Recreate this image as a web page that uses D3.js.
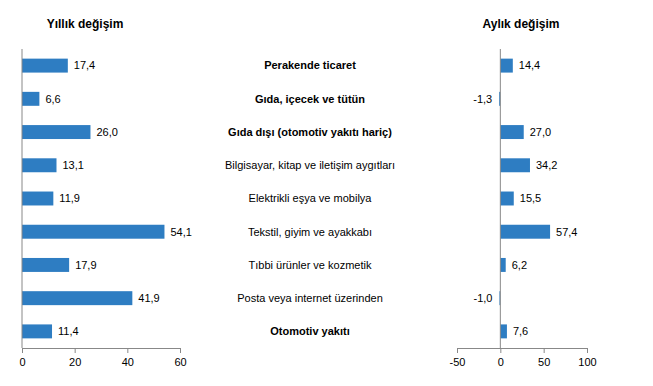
<!DOCTYPE html>
<html>
<head>
<meta charset="utf-8">
<script src="https://cdn.jsdelivr.net/npm/d3@7"></script>
<style>
  body { margin: 0; background: #fff; }
  svg { font-family: "Liberation Sans", Arial, sans-serif; }
</style>
</head>
<body>
<svg width="653" height="386"></svg>
<script>
// data
var categories = [
  "Perakende ticaret",
  "Gıda, içecek ve tütün",
  "Gıda dışı (otomotiv yakıtı hariç)",
  "Bilgisayar, kitap ve iletişim aygıtları",
  "Elektrikli eşya ve mobilya",
  "Tekstil, giyim ve ayakkabı",
  "Tıbbi ürünler ve kozmetik",
  "Posta veya internet üzerinden",
  "Otomotiv yakıtı"
];
var boldCats = ["Perakende ticaret", "Gıda, içecek ve tütün", "Gıda dışı (otomotiv yakıtı hariç)", "Otomotiv yakıtı"];
var yearly = [17.4, 6.6, 26.0, 13.1, 11.9, 54.1, 17.9, 41.9, 11.4];
var monthly = [14.4, -1.3, 27.0, 34.2, 15.5, 57.4, 6.2, -1.0, 7.6];
var yearlyTicks = [0, 20, 40, 60];
var monthlyTicks = [-50, 0, 50, 100];

var svg = d3.select("svg");
var barColor = "#2e7dc2";
var axisColor = "#888";
var fmt = function(v){ return v.toFixed(1).replace(".", ","); };

var y = d3.scaleBand().domain(categories).range([49, 348]).paddingInner(0.58).paddingOuter(0.29);

var xL = d3.scaleLinear().domain([0, 60]).range([22, 180]);
var xR = d3.scaleLinear().domain([-50, 100]).range([457, 587]);

function drawPanel(x, vals, ticks, title, titleX) {
  var g = svg.append("g");
  g.selectAll("rect").data(vals).enter().append("rect")
    .attr("x", function(d){ return x(Math.min(0, d)); })
    .attr("y", function(d, i){ return y(categories[i]); })
    .attr("width", function(d){ return Math.abs(x(d) - x(0)); })
    .attr("height", y.bandwidth())
    .attr("fill", barColor);

  g.selectAll("text.val").data(vals).enter().append("text")
    .attr("class", "val")
    .attr("x", function(d){ return d >= 0 ? x(d) + 6 : x(d) - 7; })
    .attr("y", function(d, i){ return y(categories[i]) + y.bandwidth() / 2; })
    .attr("dy", "0.35em")
    .attr("text-anchor", function(d){ return d >= 0 ? "start" : "end"; })
    .attr("font-size", 11)
    .attr("fill", "#000")
    .text(fmt);

  // vertical axis line at zero
  g.append("line")
    .attr("x1", x(0)).attr("x2", x(0))
    .attr("y1", 49).attr("y2", 348)
    .attr("stroke", axisColor).attr("stroke-width", 1);

  var ax = g.append("g")
    .attr("transform", "translate(0,348)")
    .call(d3.axisBottom(x).tickValues(ticks).tickSize(5).tickSizeOuter(0).tickFormat(function(d){ return String(d); }));
  ax.select(".domain").attr("stroke", axisColor);
  ax.selectAll(".tick line").attr("stroke", axisColor);
  ax.selectAll(".tick text").attr("font-size", 11).attr("fill", "#000")
    .attr("font-family", "Liberation Sans, Arial, sans-serif").attr("dy", "0.9em");

  svg.append("text")
    .attr("x", titleX).attr("y", 28)
    .attr("text-anchor", "middle")
    .attr("font-size", 12).attr("font-weight", "bold")
    .text(title);
}

drawPanel(xL, yearly, yearlyTicks, "Yıllık değişim", 85);
drawPanel(xR, monthly, monthlyTicks, "Aylık değişim", 521);

svg.selectAll("text.cat").data(categories).enter().append("text")
  .attr("class", "cat")
  .attr("x", 310)
  .attr("y", function(d){ return y(d) + y.bandwidth() / 2; })
  .attr("dy", "0.35em")
  .attr("text-anchor", "middle")
  .attr("font-size", 11)
  .attr("font-weight", function(d){ return boldCats.indexOf(d) >= 0 ? "bold" : "normal"; })
  .text(function(d){ return d; });
</script>
</body>
</html>
